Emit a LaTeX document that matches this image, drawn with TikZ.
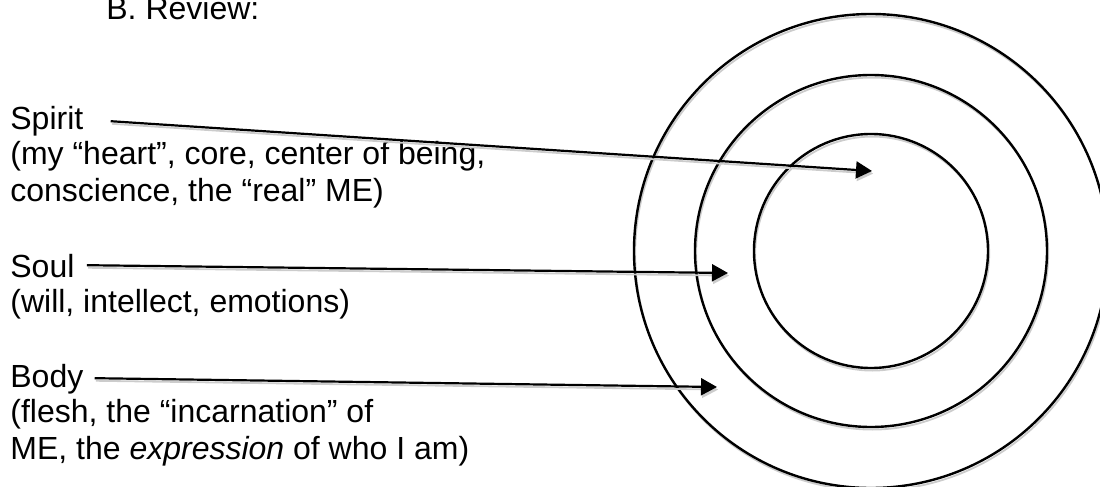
\documentclass[tikz,border=0pt]{standalone}
\usepackage{fontspec}
\setmainfont{Liberation Sans}
\usetikzlibrary{arrows.meta,positioning}

\begin{document}
\begin{tikzpicture}[x=0.5pt,y=-0.5pt,>={Triangle[length=8pt,width=8.5pt]},
        ttl/.style={inner sep=0pt,anchor=base west,text height=0.73em,text depth=0.21em,
                    font=\fontsize{16pt}{18.5pt}\selectfont},
        dsc/.style={inner sep=0pt,align=left,font=\fontsize{16pt}{18.5pt}\selectfont},
        shade/.style={preaction={draw,gray!40,line width=0.9pt,
                      transform canvas={shift={(0.6pt,-1.3pt)}}}},
        ring/.style={draw,circle,line width=1.2pt,inner sep=0pt,outer sep=0pt,shade},
        ptr/.style={->,line width=1.1pt,shade}]
      \useasboundingbox (0,0) rectangle (1100,487);
      \node[ttl] (head) at (106,19) {B. Review:};
      % the three rings
      \node[ring,minimum size=237pt] (bodyring) at (871,251) {};
      \node[ring,minimum size=176pt] (soulring) at (871,251) {};
      \node[ring,minimum size=117pt] (spiritring) at (871,251) {};
      \coordinate (spirittip) at (872,171);
      \coordinate (soultip) at (728,273);
      \coordinate (bodytip) at (717,387);
      % labels
      \node[ttl] (spirit) at (10,129) {Spirit};
      \node[dsc,below=3.5pt of spirit.south west,anchor=north west] (spiritdsc)
        {(my “heart”, core, center of being,\\conscience, the “real” ME)};
      \node[ttl] (soul) at (10,277) {Soul};
      \node[dsc,below=3.5pt of soul.south west,anchor=north west] (souldsc)
        {(will, intellect, emotions)};
      \node[ttl] (body) at (10,387) {Body};
      \node[dsc,below=3.5pt of body.south west,anchor=north west] (bodydsc)
        {(flesh, the “incarnation” of\\ME, the \textit{expression} of who I am)};
      \draw[ptr] ([xshift=13.5pt,yshift=1.3pt]spirit.east) -- (spirittip);
      \draw[ptr] ([xshift=6pt,yshift=3.3pt]soul.east) -- (soultip);
      \draw[ptr] ([xshift=5.5pt,yshift=1.8pt]body.east) -- (bodytip);
    \end{tikzpicture}
\end{document}
